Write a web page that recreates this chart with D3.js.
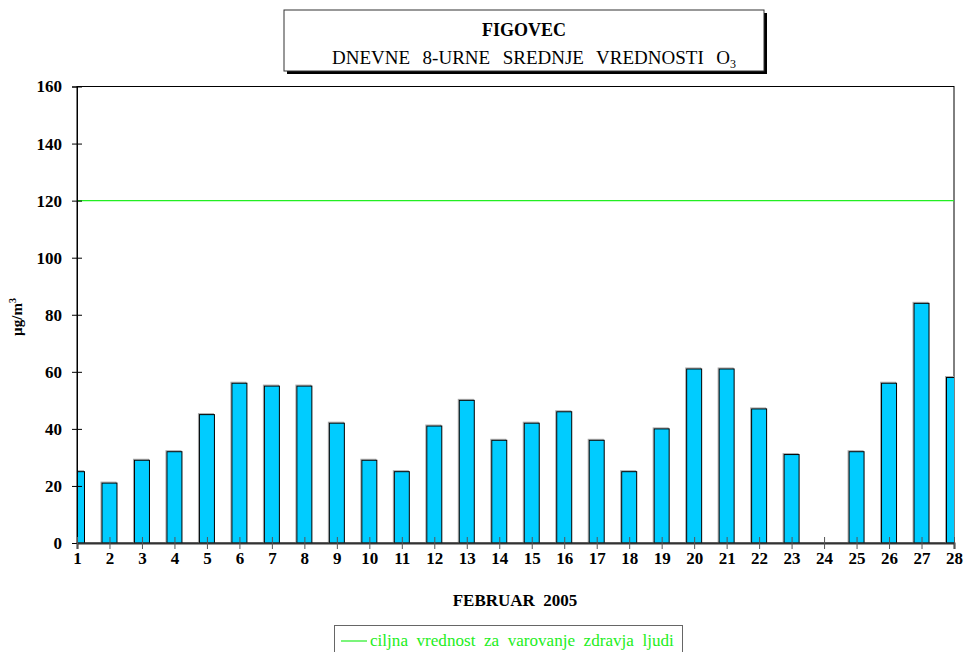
<!DOCTYPE html>
<html>
<head>
<meta charset="utf-8">
<script src="https://cdn.jsdelivr.net/npm/d3@7"></script>
<style>
  body { margin: 0; background: #fff; }
  svg text { white-space: pre; }
</style>
</head>
<body>
<svg id="chart" width="964" height="652"></svg>
<script>
// data
const days = d3.range(1, 29);
const values = [25, 21, 29, 32, 45, 56, 55, 55, 42, 29, 25, 41, 50, 36,
  42, 46, 36, 25, 40, 61, 61, 47, 31, null, 32, 56, 84, 58];
const yTicks = [0, 20, 40, 60, 80, 100, 120, 140, 160];
const targetValue = 120;

const title = "FIGOVEC";
const subtitle = "DNEVNE  8-URNE  SREDNJE  VREDNOSTI  O";
const xTitle = "FEBRUAR  2005";
const legendLabel = "ciljna  vrednost  za  varovanje  zdravja  ljudi";

const svg = d3.select("#chart");
const plotLeft = 77, plotRight = 954, plotTop = 86.5, plotBottom = 543;
const barWidth = 15;

const x = d3.scalePoint().domain(days).range([plotLeft, plotRight]);
const y = d3.scaleLinear().domain([0, 160]).range([plotBottom, plotTop]);

// clip so first and last bars are cut at plot edges
svg.append("clipPath").attr("id", "plot-clip")
  .append("rect")
  .attr("x", plotLeft).attr("y", plotTop)
  .attr("width", plotRight - plotLeft).attr("height", plotBottom - plotTop);

// plot frame
svg.append("rect")
  .attr("x", plotLeft).attr("y", plotTop)
  .attr("width", plotRight - plotLeft).attr("height", plotBottom - plotTop)
  .attr("fill", "none").attr("stroke", "#000").attr("stroke-width", 1);

const bars = svg.append("g").attr("clip-path", "url(#plot-clip)");
const barData = days.map((d, i) => ({ day: d, value: values[i] }))
  .filter((d) => d.value !== null);

// soft gray shadow behind bars
bars.selectAll("rect.shadow")
  .data(barData)
  .enter()
  .append("rect")
  .attr("class", "shadow")
  .attr("x", (d) => x(d.day) - barWidth / 2 - 1)
  .attr("y", (d) => y(d.value) - 1)
  .attr("width", barWidth)
  .attr("height", (d) => plotBottom - y(d.value))
  .attr("fill", "none")
  .attr("stroke", "#aaa")
  .attr("stroke-width", 1);

bars.selectAll("rect.bar")
  .data(barData)
  .enter()
  .append("rect")
  .attr("class", "bar")
  .attr("x", (d) => x(d.day) - barWidth / 2)
  .attr("y", (d) => y(d.value))
  .attr("width", barWidth)
  .attr("height", (d) => plotBottom - y(d.value))
  .attr("fill", "#00ccff")
  .attr("stroke", "#000")
  .attr("stroke-width", 1);

// target line
svg.append("line")
  .attr("x1", plotLeft).attr("x2", plotRight)
  .attr("y1", y(targetValue)).attr("y2", y(targetValue))
  .attr("stroke", "#22ee22").attr("stroke-width", 1.2);

// y axis
const yAxis = d3.axisLeft(y).tickValues(yTicks).tickSize(5).tickPadding(10);
const gy = svg.append("g").attr("transform", `translate(${plotLeft},0)`).call(yAxis);
gy.select(".domain").attr("stroke", "#000");
gy.selectAll(".tick line").attr("x2", 5).attr("x1", -5).attr("stroke", "#000");
gy.selectAll(".tick text")
  .attr("font-weight", "bold")
  .attr("font-size", 17)
  .attr("fill", "#000");

// x axis
const xAxis = d3.axisBottom(x).tickSize(6).tickPadding(3);
const gx = svg.append("g").attr("transform", `translate(0,${plotBottom})`).call(xAxis);
gx.select(".domain").attr("stroke", "#333").attr("stroke-width", 2);
gx.selectAll(".tick line").attr("y1", -6).attr("y2", 6).attr("stroke", "#555");
gx.selectAll(".tick text")
  .attr("font-weight", "bold")
  .attr("font-size", 17)
  .attr("fill", "#000");

// y axis title
const yt = svg.append("text")
  .attr("transform", "translate(22,317) rotate(-90)")
  .attr("text-anchor", "middle")
  .attr("font-weight", "bold")
  .attr("font-size", 15);
yt.append("tspan").text("\u00b5g/m");
yt.append("tspan").attr("dy", -6).attr("font-size", 10).text("3");

// x axis title
svg.append("text")
  .attr("x", 515).attr("y", 606)
  .attr("text-anchor", "middle")
  .attr("font-weight", "bold")
  .attr("font-size", 17)
  .text(xTitle);

// title box with drop shadow
svg.append("rect")
  .attr("x", 287).attr("y", 13).attr("width", 480).attr("height", 61)
  .attr("fill", "#000");
svg.append("rect")
  .attr("x", 284).attr("y", 10).attr("width", 480).attr("height", 61)
  .attr("fill", "#fff").attr("stroke", "#333").attr("stroke-width", 1);
svg.append("text")
  .attr("x", 524).attr("y", 36)
  .attr("text-anchor", "middle")
  .attr("font-weight", "bold")
  .attr("font-size", 18)
  .text(title);
const st = svg.append("text")
  .attr("x", 534).attr("y", 64)
  .attr("text-anchor", "middle")
  .attr("font-size", 19)
  .attr("word-spacing", 1.5);
st.append("tspan").text(subtitle);
st.append("tspan").attr("dy", 4).attr("font-size", 12).text("3");

// legend
svg.append("rect")
  .attr("x", 334.5).attr("y", 625.5).attr("width", 348).attr("height", 40)
  .attr("fill", "#fff").attr("stroke", "#666").attr("stroke-width", 1);
svg.append("line")
  .attr("x1", 341).attr("x2", 367).attr("y1", 641).attr("y2", 641)
  .attr("stroke", "#22ee22").attr("stroke-width", 1.2);
svg.append("text")
  .attr("x", 370).attr("y", 646)
  .attr("font-size", 17.1)
  .attr("fill", "#22ee22")
  .text(legendLabel);

// Times-like face for every label
svg.selectAll("text").style("font-family", "Liberation Serif");
</script>
</body>
</html>
